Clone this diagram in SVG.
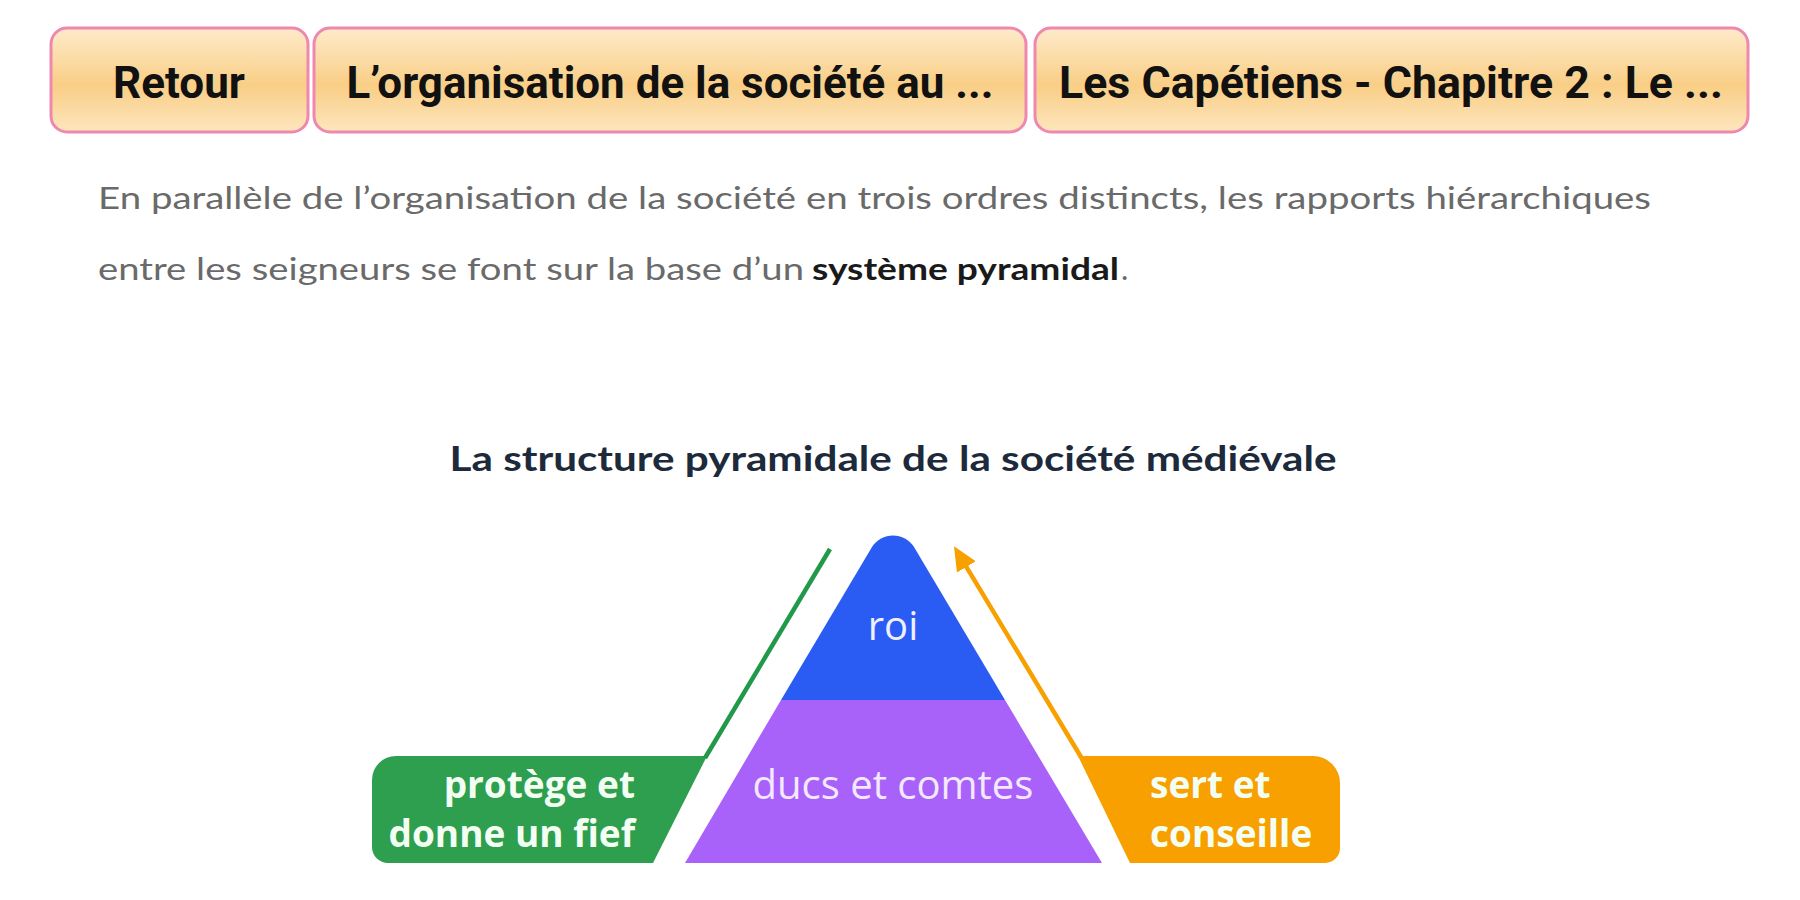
<svg xmlns="http://www.w3.org/2000/svg" width="1800" height="900" viewBox="0 0 1800 900">
<defs>
<linearGradient id="btnGrad" x1="0" y1="0" x2="0" y2="1">
<stop offset="0" stop-color="#FEEBCB"/>
<stop offset="0.55" stop-color="#F9CE86"/>
<stop offset="1" stop-color="#FDE6BE"/>
</linearGradient>
<marker id="arrowOrange" markerUnits="userSpaceOnUse" markerWidth="24" markerHeight="22" viewBox="0 0 24 22" refX="12" refY="11" orient="auto">
<path d="M0,0 L24,11 L0,22 Z" fill="#F7A000"/>
</marker>
<style>
.btn rect{fill:url(#btnGrad);stroke:#EE88B0;stroke-width:3}
.btn text{font-family:Roboto,"Liberation Sans",sans-serif;font-weight:bold;font-size:44px;fill:#111;text-anchor:middle}
.para{font-family:Lato,"Liberation Sans",sans-serif;font-size:31px;fill:#6a6a6a}
.strong{font-weight:bold;fill:#1a1a1a}
.title{font-family:Lato,"Liberation Sans",sans-serif;font-weight:bold;font-size:35px;fill:#1d2a3b;text-anchor:middle}
.lvl{font-family:"Open Sans","Liberation Sans",sans-serif;font-size:40px;text-anchor:middle}
.lbl{font-family:"Open Sans","Liberation Sans",sans-serif;font-weight:bold;font-size:37px;fill:#F4FFF4}
</style>
</defs>
<rect width="1800" height="900" fill="#ffffff"/>

<g id="btn-retour" class="btn">
<rect x="51" y="28" width="257" height="104" rx="16"/>
<text x="179" y="98" textLength="132" lengthAdjust="spacingAndGlyphs">Retour</text>
</g>
<g id="btn-organisation" class="btn">
<rect x="314" y="28" width="712" height="104" rx="16"/>
<text x="670" y="98" textLength="647" lengthAdjust="spacingAndGlyphs">L’organisation de la société au ...</text>
</g>
<g id="btn-capetiens" class="btn">
<rect x="1035" y="28" width="713" height="104" rx="16"/>
<text x="1391" y="98" textLength="664" lengthAdjust="spacingAndGlyphs">Les Capétiens - Chapitre 2 : Le ...</text>
</g>

<g id="paragraph">
<text class="para" x="98" y="209" textLength="1553" lengthAdjust="spacingAndGlyphs">En parallèle de l’organisation de la société en trois ordres distincts, les rapports hiérarchiques</text>
<text class="para" x="98" y="280" textLength="706" lengthAdjust="spacingAndGlyphs">entre les seigneurs se font sur la base d’un</text>
<text class="para strong" x="812" y="280" textLength="307" lengthAdjust="spacingAndGlyphs">système pyramidal</text>
<text class="para" x="1121" y="280">.</text>
</g>

<g id="title">
<text class="title" x="893" y="471" textLength="887" lengthAdjust="spacingAndGlyphs">La structure pyramidale de la société médiévale</text>
</g>

<g id="roi">
<path d="M781 700 L872 547 A25 25 0 0 1 914 547 L1005 700 Z" fill="#2A5CF4"/>
<text class="lvl" x="893" y="640" fill="#EEF0FF">roi</text>
</g>

<g id="ducs-comtes">
<path d="M685 863 L781 700 L1005 700 L1102 863 Z" fill="#A862FA"/>
<text class="lvl" x="893" y="799" fill="#F3E9FF">ducs et comtes</text>
</g>

<g id="protege">
<path d="M396 756 L707 756 L653 863 L388 863 A16 16 0 0 1 372 847 L372 780 A24 24 0 0 1 396 756 Z" fill="#2E9E4F"/>
<text class="lbl" x="635" y="798" text-anchor="end">protège et</text>
<text class="lbl" x="635" y="847" text-anchor="end">donne un fief</text>
</g>

<g id="sert">
<path d="M1078 756 L1313 756 A27 27 0 0 1 1340 783 L1340 848 A15 15 0 0 1 1325 863 L1130 863 Z" fill="#F7A000"/>
<text class="lbl" x="1150" y="798" fill="#FFF8EC">sert et</text>
<text class="lbl" x="1150" y="847" fill="#FFF8EC">conseille</text>
</g>

<g id="connectors">
<line x1="705" y1="758" x2="830" y2="549" stroke="#22994A" stroke-width="4.5"/>
<line x1="1081" y1="757" x2="960.2" y2="556.6" stroke="#F7A000" stroke-width="4.5" marker-end="url(#arrowOrange)"/>
</g>
</svg>
